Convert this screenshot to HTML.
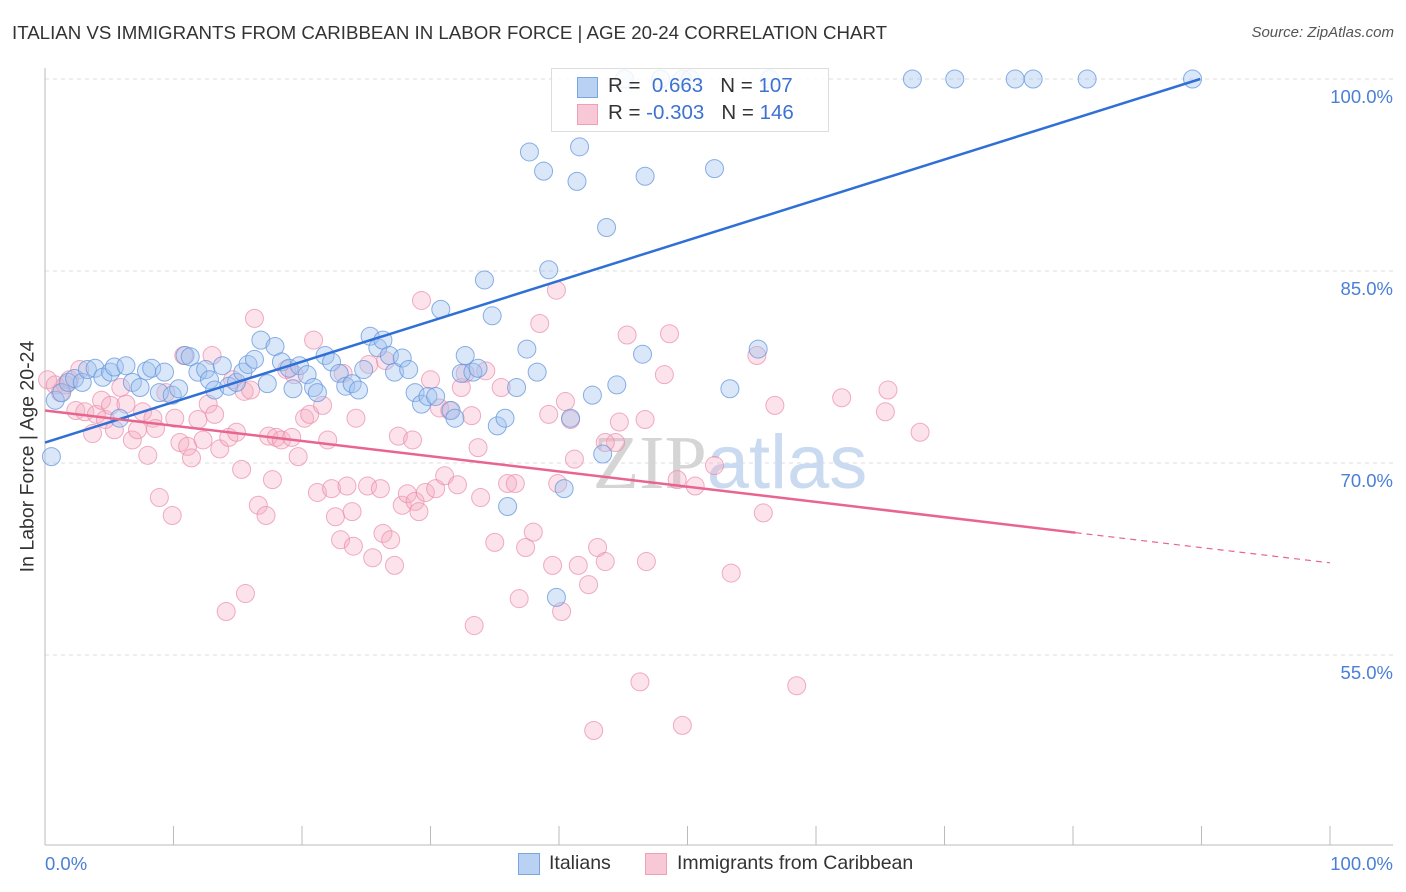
<!DOCTYPE html>
<html><head><meta charset="utf-8"><style>
body{margin:0;background:#fff;font-family:"Liberation Sans",Arial,sans-serif;}
#wrap{position:relative;width:1406px;height:892px;overflow:hidden;}
.t{position:absolute;white-space:nowrap;}
</style></head><body>
<div id="wrap">
<div class="t" style="left:12px;top:22px;font-size:18.7px;color:#333;">ITALIAN VS IMMIGRANTS FROM CARIBBEAN IN LABOR FORCE | AGE 20-24 CORRELATION CHART</div>
<div class="t" style="right:12px;top:24px;font-size:15px;color:#555;font-style:italic;">Source: ZipAtlas.com</div>
<svg id="plot" width="1406" height="892" style="position:absolute;left:0;top:0"></svg>
<div class="t" style="left:-92px;top:445px;font-size:19.5px;color:#333;transform:rotate(-90deg);transform-origin:center;width:240px;text-align:center;">In Labor Force | Age 20-24</div>
<div style="position:absolute;left:551px;top:68px;width:276px;height:62px;border:1px solid #ddd;background:rgba(255,255,255,0.85);font-size:20.5px;">
 <div style="position:absolute;left:25px;top:8px;width:19px;height:19px;background:#b9d2f3;border:1px solid #7aa6e0;"></div>
 <div class="t" style="left:56px;top:5px;color:#333;">R = &nbsp;<span style="color:#3d72d2">0.663</span> &nbsp; N = <span style="color:#3d72d2">107</span></div>
 <div style="position:absolute;left:25px;top:35px;width:19px;height:19px;background:#f9c8d6;border:1px solid #eea0b8;"></div>
 <div class="t" style="left:56px;top:32px;color:#333;">R = <span style="color:#3d72d2">-0.303</span> &nbsp; N = <span style="color:#3d72d2">146</span></div>
</div>
<div style="position:absolute;left:518px;top:853px;width:20px;height:20px;background:#b9d2f3;border:1px solid #7aa6e0;"></div>
<div class="t" style="left:549px;top:852px;font-size:19.5px;color:#333;">Italians</div>
<div style="position:absolute;left:645px;top:853px;width:20px;height:20px;background:#f9c8d6;border:1px solid #eea0b8;"></div>
<div class="t" style="left:677px;top:852px;font-size:19.5px;color:#333;">Immigrants from Caribbean</div>
</div>
<script>
const blueX=[0.5,0.8,1.3,1.8,2.3,2.9,3.3,3.9,4.5,5.1,5.4,5.8,6.3,6.8,7.4,7.9,8.3,8.9,9.3,9.9,10.4,10.9,11.3,11.9,12.5,12.8,13.2,13.8,14.3,14.9,15.4,15.8,16.3,16.8,17.3,17.9,18.4,19.0,19.3,19.8,20.4,20.9,21.2,21.8,22.3,22.9,23.4,23.9,24.4,24.8,25.3,25.9,26.3,26.8,27.2,27.8,28.3,28.8,29.3,29.8,30.4,30.8,31.6,31.9,32.4,32.7,33.3,33.7,34.2,34.8,35.2,35.8,36.0,36.7,37.5,38.3,37.7,38.8,39.2,39.8,40.4,40.9,41.4,41.6,42.6,43.4,43.7,44.5,45.1,46.7,46.5,47.9,49.6,50.2,52.1,53.3,55.5,56.4,67.5,70.8,75.5,76.9,81.1,89.3];
const blueY=[70.5,74.9,75.5,76.3,76.6,76.3,77.3,77.4,76.7,77.1,77.5,73.5,77.6,76.3,75.9,77.2,77.4,75.5,77.1,75.3,75.8,78.4,78.3,77.1,77.3,76.5,75.7,77.6,76.0,76.3,77.1,77.7,78.1,79.6,76.2,79.1,77.9,77.4,75.8,77.6,76.9,75.9,75.5,78.4,77.9,77.0,76.0,76.2,75.7,77.3,79.9,79.0,79.6,78.4,77.1,78.2,77.3,75.5,74.6,75.2,75.2,82.0,74.1,73.5,77.0,78.4,77.1,77.4,84.3,81.5,72.9,73.5,66.6,75.9,78.9,77.1,94.3,92.8,85.1,59.5,68.0,73.5,92.0,94.7,75.3,70.7,88.4,76.1,100,92.4,78.5,100,100,100,93.0,75.8,78.9,100,100,100,100,100,100,100];
const pinkX=[0.2,0.8,1.2,1.6,1.9,2.4,2.7,3.1,3.7,4.0,4.4,4.7,5.1,5.4,5.9,6.3,6.8,7.2,7.6,8.0,8.4,8.6,8.9,9.4,9.9,10.1,10.5,10.8,11.1,11.4,11.9,12.3,12.7,13.0,13.2,13.6,14.1,14.3,14.6,14.9,15.3,15.5,15.6,16.0,16.3,16.6,17.2,17.4,17.7,18.0,18.4,18.8,19.2,19.4,19.7,20.2,20.6,20.9,21.2,21.6,22.0,22.3,22.6,23.0,23.2,23.5,23.9,24.0,24.2,25.1,25.2,25.5,26.1,26.3,26.5,26.9,27.2,27.5,27.8,28.2,28.6,28.8,29.1,29.3,29.6,30.0,30.4,30.7,31.1,31.5,32.1,32.4,32.7,33.2,33.4,33.7,33.9,34.3,35.0,35.5,36.0,36.6,36.9,37.4,38.0,38.5,39.2,39.5,39.9,40.2,40.5,40.9,41.2,41.5,42.3,43.0,43.6,44.4,44.7,45.3,46.3,46.8,48.2,48.6,49.2,49.6,50.6,52.1,53.4,55.4,55.9,56.8,58.5,62.0,65.4,65.6,68.1,42.7,43.6,46.7,39.8];
const pinkY=[76.5,76.1,75.5,76.1,76.5,74.1,77.3,74.0,72.3,73.8,74.9,73.4,74.5,72.6,75.9,74.6,71.8,72.6,74.0,70.6,73.5,72.7,67.3,75.5,65.9,73.5,71.6,78.4,71.3,70.4,73.4,71.8,74.6,78.4,73.8,71.1,58.4,72.0,76.5,72.4,69.5,75.6,59.8,75.7,81.3,66.7,65.9,72.1,68.7,72.0,71.8,77.3,72.0,76.9,70.5,73.5,73.8,79.6,67.7,74.5,71.8,68.0,65.8,64.0,77.0,68.2,66.2,63.5,73.5,68.2,77.7,62.6,68.0,64.5,78.0,64.0,62.0,72.1,66.7,67.6,71.8,67.0,66.2,82.7,67.7,76.5,68.0,74.3,69.0,74.1,68.3,75.9,77.0,73.7,57.3,71.2,67.3,77.2,63.8,75.9,68.4,68.4,59.4,63.4,64.6,80.9,73.8,62.0,68.4,58.4,74.8,73.4,70.3,62.0,60.5,63.4,62.3,71.6,73.2,80.0,52.9,62.3,76.9,80.1,68.7,49.5,68.2,69.8,61.4,78.4,66.1,74.5,52.6,75.1,74.0,75.7,72.4,49.1,71.6,73.4,83.5];
const blueTrend=[71.6,100];
const blueTrendEndX=89.9;
const pinkTrend=[74.1,62.2];
const pinkSolidEndX=80.2;
const yTicks=[100,85,70,55];
const yTickLabels=["100.0%","85.0%","70.0%","55.0%"];
const xTicks=[0,10,20,30,40,50,60,70,80,90,100];

const NS="http://www.w3.org/2000/svg";
const svg=document.getElementById('plot');
const sx=v=>45+v*12.85;
const sy=v=>79+(100-v)*12.8;
function mk(tag,attrs){const e=document.createElementNS(NS,tag);for(const k in attrs)e.setAttribute(k,attrs[k]);svg.appendChild(e);return e;}

yTicks.forEach((t,i)=>{
  const g=mk('line',{x1:45,x2:1393,y1:sy(t),y2:sy(t),stroke:'#ddd','stroke-dasharray':'4,4'});
  
  
  const tx=mk('text',{x:1393,y:sy(t)+24,'text-anchor':'end','font-size':18.5,fill:'#4a7fd6','font-family':'Liberation Sans, sans-serif'});
  tx.textContent=yTickLabels[i];
  
  
});
const ax=mk('line',{x1:45,x2:45,y1:68,y2:845,stroke:'#bbb'});


const bx=mk('line',{x1:45,x2:1393,y1:845,y2:845,stroke:'#bbb'});


xTicks.forEach(t=>{
  const l=mk('line',{x1:sx(t),x2:sx(t),y1:826,y2:845,stroke:'#bbb'});
  
  
});
const xl0=mk('text',{x:45,y:870,'font-size':18.5,fill:'#4a7fd6','font-family':'Liberation Sans, sans-serif'});
xl0.textContent='0.0%';


const xl1=mk('text',{x:1393,y:870,'text-anchor':'end','font-size':18.5,fill:'#4a7fd6','font-family':'Liberation Sans, sans-serif'});
xl1.textContent='100.0%';



const wm=mk('text',{x:730,y:488,'text-anchor':'middle','font-size':76,fill:'#d8e4f3','font-family':'Liberation Sans, sans-serif'});
wm.innerHTML='<tspan fill="#d5d5d5" font-family="Liberation Serif, serif">ZIP</tspan><tspan fill="#c9daf1">atlas</tspan>';



pinkX.forEach((x,i)=>{
  const c=mk('circle',{cx:sx(x),cy:sy(pinkY[i]),r:9,fill:'rgba(246,172,196,0.35)',stroke:'rgba(234,140,170,0.7)','stroke-width':1});
  
  
});
blueX.forEach((x,i)=>{
  const c=mk('circle',{cx:sx(x),cy:sy(blueY[i]),r:9,fill:'rgba(160,195,240,0.4)',stroke:'rgba(100,150,220,0.75)','stroke-width':1});
  
  
});
const pyAt=x=>pinkTrend[0]+(pinkTrend[1]-pinkTrend[0])*x/100;
const bt=mk('line',{x1:sx(0),y1:sy(blueTrend[0]),x2:sx(blueTrendEndX),y2:sy(blueTrend[1]),stroke:'#2f6fd6','stroke-width':2.5});


const pt=mk('line',{x1:sx(0),y1:sy(pyAt(0)),x2:sx(pinkSolidEndX),y2:sy(pyAt(pinkSolidEndX)),stroke:'#e8658f','stroke-width':2.5});


const pd=mk('line',{x1:sx(pinkSolidEndX),y1:sy(pyAt(pinkSolidEndX)),x2:sx(100),y2:sy(pyAt(100)),stroke:'#e8658f','stroke-width':1.2,'stroke-dasharray':'6,5'});


</script>
</body></html>
